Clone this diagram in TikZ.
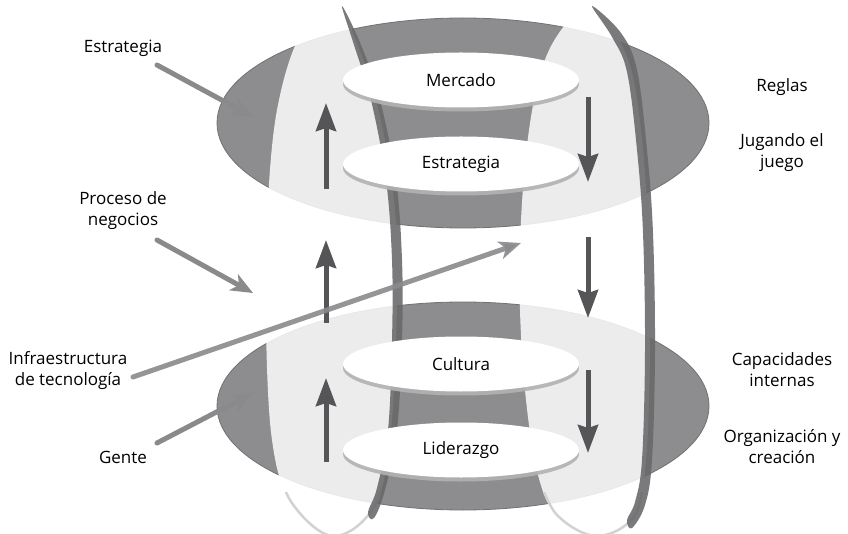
\documentclass[tikz,border=0pt]{standalone}
\usepackage{fontspec}
\setmainfont{Open Sans}
\usetikzlibrary{shapes,shadows,arrows.meta}
\definecolor{discgray}{HTML}{8D8D8F}
\definecolor{rimgray}{HTML}{68686A}
\definecolor{flowgray}{HTML}{555557}
\definecolor{pointgray}{HTML}{8A8A8C}

\begin{document}
\begin{tikzpicture}[x=1pt,y=-1pt]
\tikzset{disc/.style = {fill=discgray,draw=discgray!80!black,line width=.8pt}}
\tikzset{hoop/.style = {fill=white,fill opacity=.84}}
\tikzset{hooprim/.style = {fill=rimgray,opacity=.88}}
\tikzset{pill/.style = {shape=ellipse,fill=white,inner sep=0pt,minimum width=236pt,minimum height=55pt,
  font=\fontsize{17}{20}\selectfont,
  drop shadow={shadow xshift=0pt,shadow yshift=-4pt,fill=gray!60,opacity=.9}}}
\tikzset{flow/.style = {draw=flowgray,line width=5pt,-{Stealth[length=28pt,width=20pt,inset=3pt]}}}
\tikzset{pointer/.style = {draw=pointgray,line width=5pt,line cap=round,-{Stealth[length=22pt,width=18pt,inset=6pt]}}}
\tikzset{lbl/.style = {align=center,font=\fontsize{17}{21}\selectfont}}

\useasboundingbox (0,0) rectangle (848,534);
\clip (0,0) rectangle (848,534);

% discs
\draw[disc] (463,123) ellipse [x radius=246pt,y radius=105pt];
\draw[disc] (463,406) ellipse [x radius=246pt,y radius=104pt];

% hoops
\fill[hoop] plot[smooth cycle,tension=.6] coordinates {(340,6) (302,32) (277,110) (267,220) (266,330)
  (272,440) (290,500) (333,536) (375,505) (391,430) (397,300) (394,200) (376,100) (350,25)};
\fill[hoop] plot[smooth cycle,tension=.6] coordinates {(592,6) (565,25) (543,65) (529,130) (521,220)
  (520,310) (526,400) (538,475) (557,515) (597,536) (635,515) (646,460) (650,350) (648,230)
  (642,140) (630,65) (605,18)};
\begin{scope}
\clip (0,492) rectangle (848,534);
\draw[gray!35,line width=2.5pt] plot[smooth,tension=.6] coordinates {(272,440) (290,500) (333,536) (375,505) (391,430)};
\draw[gray!35,line width=2.5pt] plot[smooth,tension=.6] coordinates {(538,475) (557,515) (597,536) (635,515) (646,460)};
\end{scope}
\fill[hooprim] plot[smooth cycle,tension=.6] coordinates {(342,6) (361,45) (380,100) (396,180) (402,260)
  (402,340) (397,430) (385,490) (374,518) (368,512) (377,488) (388,430) (392,340) (392,260)
  (386,180) (371,100) (354,45)};
\fill[hooprim] plot[smooth cycle,tension=.6] coordinates {(592,6) (621,33) (637,70) (647,150) (653,233)
  (655,350) (652,460) (645,505) (632,528) (627,520) (635,502) (642,460) (645,350) (643,233)
  (637,150) (627,72) (612,37)};

% inner ellipses
\node[pill] (mercado) at (461,80) {Mercado};
\node[pill] (estrategia) at (461,164) {Estrategia};
\node[pill] (cultura) at (461,364) {Cultura};
\node[pill] (liderazgo) at (461,450) {Liderazgo};

% flow arrows
\foreach \ya/\yb [count=\i] in {189/103,323/240,462/378}{
  \coordinate (up\i a) at (326,\ya);
  \coordinate (up\i b) at (326,\yb);
  \draw[flow] (up\i a) -- (up\i b);
}
\foreach \ya/\yb [count=\i] in {97/182,237/318,370/453}{
  \coordinate (dn\i a) at (588,\ya);
  \coordinate (dn\i b) at (588,\yb);
  \draw[flow] (dn\i a) -- (dn\i b);
}

% labels
\node[lbl] (lstrat) at (123,48) {Estrategia};
\node[lbl] (lproc) at (123,211) {Proceso de\\negocios};
\node[lbl] (linfra) at (68,371) {Infraestructura\\de tecnología};
\node[lbl] (lgente) at (123,457) {Gente};
\node[lbl] (lreglas) at (782,87) {Reglas};
\node[lbl] (ljuego) at (782,153) {Jugando el\\juego};
\node[lbl] (lcap) at (782,370) {Capacidades\\internas};
\node[lbl] (lorg) at (782,447) {Organización y\\creación};

% pointers
\coordinate (strat a) at (157,65);  \coordinate (strat b) at (253,117);
\coordinate (proc a) at (157,240);  \coordinate (proc b) at (253,293);
\coordinate (infra a) at (133,377); \coordinate (infra b) at (521,243);
\coordinate (gente a) at (157,443); \coordinate (gente b) at (253,393);
\draw[pointer] (strat a) -- (strat b);
\draw[pointer] (proc a) -- (proc b);
\draw[pointer,opacity=.9] (infra a) -- (infra b);
\draw[pointer] (gente a) -- (gente b);

\end{tikzpicture}
\end{document}
